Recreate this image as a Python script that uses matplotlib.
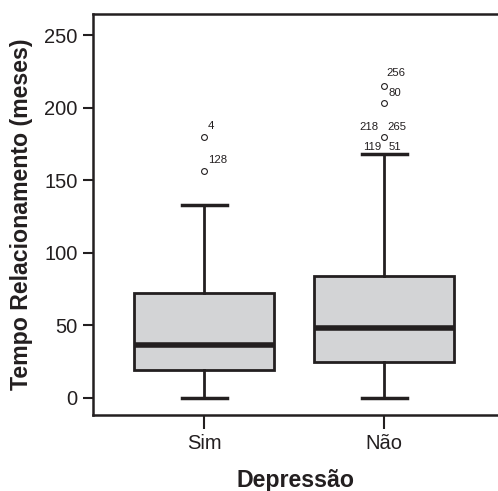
import matplotlib.pyplot as plt

plt.rcParams["font.family"] = ["Liberation Sans", "DejaVu Sans"]

# group summary values (meses)
groups = ["Sim", "Não"]
q1 = [19, 25]
medians = [36.5, 48]
q3 = [72, 84]
whisker_low = [0, 0]
whisker_high = [133, 168]

# outliers with case labels
outliers_sim = [180, 156]
outlier_labels_sim = ["4", "128"]
outliers_nao = [215, 203, 180]
outlier_labels_nao = ["256", "80", "218"]
extra_labels_nao = ["265", "119", "51"]

line_col = "#231f20"

stats = []
for i, g in enumerate(groups):
    fl = outliers_sim if i == 0 else outliers_nao
    stats.append({
        "label": g, "q1": q1[i], "med": medians[i], "q3": q3[i],
        "whislo": whisker_low[i], "whishi": whisker_high[i], "fliers": fl,
    })

fig = plt.figure(figsize=(4.98, 4.91), dpi=100)
ax = fig.add_axes([0.187, 0.155, 0.813, 0.8165])

ax.bxp(
    stats, positions=[1, 2], widths=0.778, patch_artist=True,
    boxprops=dict(facecolor="#d3d4d6", edgecolor=line_col, linewidth=2),
    medianprops=dict(color=line_col, linewidth=4, solid_capstyle="butt"),
    whiskerprops=dict(color=line_col, linewidth=2),
    capprops=dict(color=line_col, linewidth=2.5),
    capwidths=0.25,
    flierprops=dict(marker="o", markersize=4.2, markerfacecolor="white",
                    markeredgecolor=line_col, markeredgewidth=0.8),
)

ann = dict(fontsize=8.2, textcoords="offset pixels", color=line_col, va="center")
for v, lab in zip(outliers_sim, outlier_labels_sim):
    ax.annotate(lab, (1, v), xytext=(4, 11), ha="left", **ann)

ax.annotate(outlier_labels_nao[0], (2, outliers_nao[0]), xytext=(2, 13), ha="left", **ann)
ax.annotate(outlier_labels_nao[1], (2, outliers_nao[1]), xytext=(4, 10), ha="left", **ann)
ax.annotate(outlier_labels_nao[2], (2, outliers_nao[2]), xytext=(-6, 10), ha="right", **ann)
ax.annotate(extra_labels_nao[0], (2, outliers_nao[2]), xytext=(3, 10), ha="left", **ann)
ax.annotate(extra_labels_nao[1], (2, whisker_high[1]), xytext=(-3, 7), ha="right", **ann)
ax.annotate(extra_labels_nao[2], (2, whisker_high[1]), xytext=(5, 7), ha="left", **ann)

ax.set_xlim(0.383, 2.633)
ax.set_ylim(-11.7, 264.5)
ax.set_yticks([0, 50, 100, 150, 200, 250])
ax.set_xticks([1, 2])
ax.set_xticklabels(groups)

for side in ["left", "bottom", "top"]:
    ax.spines[side].set_linewidth(1.8)
    ax.spines[side].set_color(line_col)
ax.spines["right"].set_visible(False)
ax.tick_params(axis="both", labelsize=14.5, width=1.5, color=line_col,
               labelcolor=line_col, pad=3.5)
ax.tick_params(axis="y", length=7.5)
ax.tick_params(axis="x", length=10)

ax.set_xlabel("Depressão", fontsize=16.7, fontweight="bold", labelpad=12, color=line_col)
ax.set_ylabel("Tempo Relacionamento (meses)", fontsize=16.7, fontweight="bold",
              labelpad=8, color=line_col)

fig.savefig("out.png", dpi=100)
